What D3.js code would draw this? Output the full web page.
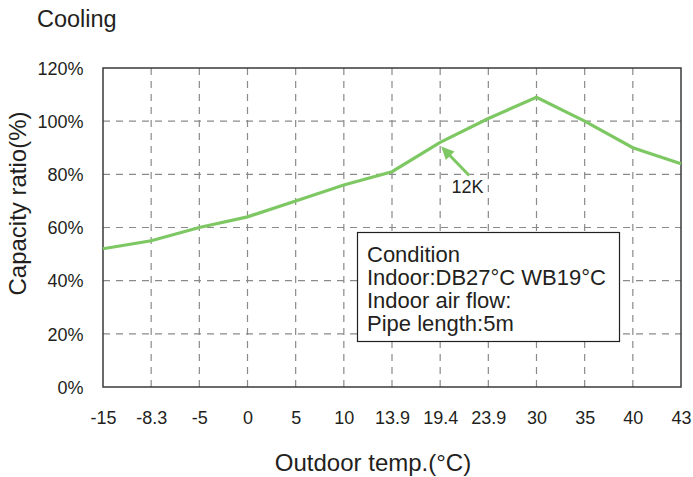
<!DOCTYPE html>
<html><head><meta charset="utf-8">
<script src="https://cdn.jsdelivr.net/npm/d3@7"></script>
<style>body{margin:0;background:#fff}svg text{font-family:"Liberation Sans",Arial,sans-serif;fill:#231f20}</style>
</head><body><svg id="c" width="693" height="477"></svg>
<script>
const categories = ["-15","-8.3","-5","0","5","10","13.9","19.4","23.9","30","35","40","43"];
const capacity = [52,55,60,64,70,76,81,92,101,109,100,90,84];
const yTicks = [0,20,40,60,80,100,120];
const conditionLines = ["Condition","Indoor:DB27°C WB19°C","Indoor air flow:","Pipe length:5m"];

const svg = d3.select("#c");
const L=103,R=681,T=68,B=387;
const x = d3.scalePoint().domain(categories).range([L,R]);
const y = d3.scaleLinear().domain([0,120]).range([B,T]);

// grid
const g = svg.append("g");
g.selectAll(".hg").data(yTicks.filter(d=>d>0&&d<120)).join("line")
 .attr("x1",L).attr("x2",R).attr("y1",d=>y(d)).attr("y2",d=>y(d))
 .attr("stroke","#8a8a8a").attr("stroke-width",1.2).attr("stroke-dasharray","7,6");
g.selectAll(".vg").data(categories.slice(1,-1)).join("line")
 .attr("x1",d=>x(d)).attr("x2",d=>x(d)).attr("y1",T).attr("y2",B)
 .attr("stroke","#8a8a8a").attr("stroke-width",1.2).attr("stroke-dasharray","7,6");

// frame
svg.append("rect").attr("x",L).attr("y",T).attr("width",R-L).attr("height",B-T)
 .attr("fill","none").attr("stroke","#3a3a3a").attr("stroke-width",1.5);

// axes labels
const yAxis = d3.axisLeft(y).tickValues(yTicks).tickFormat(d=>d+"%").tickSize(0).tickPadding(19.5);
const ya = svg.append("g").attr("transform",`translate(${L},0)`).call(yAxis);
ya.select(".domain").remove();
ya.selectAll("text").style("font-size","18px").style("font-family","Liberation Sans, Arial, sans-serif").attr("dy","0.35em");

const xAxis = d3.axisBottom(x).tickSize(0).tickPadding(24);
const xa = svg.append("g").attr("transform",`translate(0,${B})`).call(xAxis);
xa.select(".domain").remove();
xa.selectAll("text").style("font-size","18px").style("font-family","Liberation Sans, Arial, sans-serif");

// line
svg.append("path").datum(capacity.map((v,i)=>[categories[i],v]))
 .attr("d",d3.line().x(d=>x(d[0])).y(d=>y(d[1])))
 .attr("fill","none").attr("stroke","#7ec863").attr("stroke-width",3.2).attr("stroke-linejoin","miter");

// arrow annotation
const tipX = x("19.4")+1, tipY = y(92)+4;
const tailX = tipX+28, tailY = tipY+29;
const ang = Math.atan2(tipY-tailY, tipX-tailX);
svg.append("line").attr("x1",tailX).attr("y1",tailY)
 .attr("x2",tipX-Math.cos(ang)*8).attr("y2",tipY-Math.sin(ang)*8)
 .attr("stroke","#7ec863").attr("stroke-width",3);
const hl=13, hw=6;
const bx=tipX-Math.cos(ang)*hl, by=tipY-Math.sin(ang)*hl;
svg.append("path").attr("d",`M${tipX},${tipY}L${bx+Math.sin(ang)*hw},${by-Math.cos(ang)*hw}L${bx-Math.sin(ang)*hw},${by+Math.cos(ang)*hw}Z`)
 .attr("fill","#7ec863");
svg.append("text").attr("x",467.5).attr("y",192.5).attr("text-anchor","middle").style("font-size","18px").text("12K");

// condition box
svg.append("rect").attr("x",357.5).attr("y",232.5).attr("width",262).attr("height",109)
 .attr("fill","#fff").attr("stroke","#231f20").attr("stroke-width",1.2);
svg.append("g").selectAll("text").data(conditionLines).join("text")
 .attr("x",367).attr("y",(d,i)=>261.5+i*23.2).style("font-size","22px").text(d=>d);

// titles
svg.append("text").attr("x",37).attr("y",26.5).style("font-size","23.5px").text("Cooling");
svg.append("text").attr("x",373).attr("y",471).attr("text-anchor","middle").style("font-size","24px").text("Outdoor temp.(°C)");
svg.append("text").attr("transform","translate(25.5,203.5) rotate(-90)").attr("text-anchor","middle").style("font-size","24px").text("Capacity ratio(%)");
</script></body></html>
